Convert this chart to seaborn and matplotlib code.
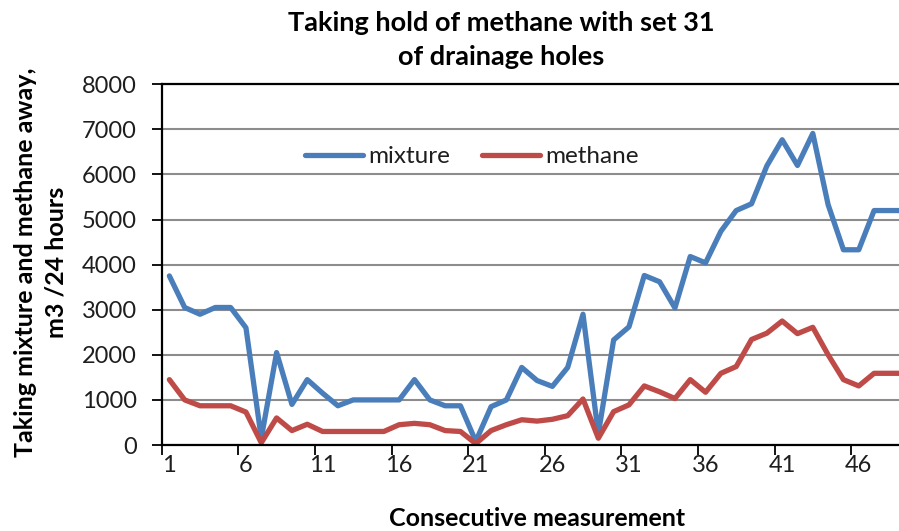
import numpy as np
import pandas as pd
import matplotlib
matplotlib.use("Agg")
import matplotlib.pyplot as plt
import seaborn as sns

# ---- data ----
measurement = list(range(1, 50))
mixture = [3750, 3050, 2900, 3050, 3050, 2600, 150, 2050, 900, 1450,
           1150, 870, 1000, 1000, 1000, 1000, 1450, 1000, 870, 870,
           80, 850, 1000, 1720, 1430, 1300, 1720, 2900, 250, 2330,
           2620, 3760, 3620, 3040, 4180, 4040, 4740, 5200, 5350, 6190,
           6770, 6200, 6910, 5330, 4330, 4330, 5200, 5200, 5200]
methane = [1450, 1000, 870, 870, 870, 730, 50, 600, 320, 460,
           300, 300, 300, 300, 300, 450, 480, 450, 320, 300,
           30, 320, 450, 560, 530, 570, 650, 1020, 150, 740,
           890, 1310, 1180, 1030, 1450, 1170, 1590, 1740, 2340, 2480,
           2750, 2470, 2610, 2000, 1450, 1310, 1590, 1590, 1590]
series_names = ["mixture", "methane"]
x_tick_labels = [1, 6, 11, 16, 21, 26, 31, 36, 41, 46]
y_ticks = [0, 1000, 2000, 3000, 4000, 5000, 6000, 7000, 8000]

title_text = "Taking hold of methane with set 31\nof drainage holes"
x_label = "Consecutive measurement"
y_label = "Taking mixture and methane away,\nm3 /24 hours"

sns.set_theme(style="white")
plt.rcParams['font.family'] = ['Lato', 'DejaVu Sans']

df = pd.DataFrame({
    "measurement": measurement * 2,
    "value": mixture + methane,
    "series": [series_names[0]] * len(mixture) + [series_names[1]] * len(methane),
})

W, H = 899, 531
fig = plt.figure(figsize=(W / 100, H / 100), dpi=100)
left_px, right_px, top_px, bottom_px = 161.7, 899, 84.3, 445
ax = fig.add_axes([left_px / W, 1 - bottom_px / H,
                   (right_px - left_px) / W, (bottom_px - top_px) / H])

palette = {"mixture": "#4A7EBB", "methane": "#BE4B48"}
sns.lineplot(data=df, x="measurement", y="value", hue="series",
             palette=palette, linewidth=3.8, ax=ax,
             solid_joinstyle="round", solid_capstyle="round")

ax.set_xlim(0.5, 0.5 + (right_px - left_px) / 15.32)
ax.set_ylim(0, 8000)

# y axis
ax.set_yticks(y_ticks)
ax.set_yticklabels([str(v) for v in y_ticks])
ax.yaxis.grid(True, color="#8C8C8C", linewidth=1.5)
ax.xaxis.grid(False)
ax.set_axisbelow(True)
ax.tick_params(axis="y", left=True, length=7, width=1.3, color="black",
               direction="out", pad=11, labelsize=17, labelcolor="#1E1E1E")

# x axis: boundary ticks, labels at categories
ax.set_xticks(np.arange(0.5, 48, 5))
ax.set_xticklabels([])
ax.set_xticks(x_tick_labels, minor=True)
ax.set_xticklabels([str(v) for v in x_tick_labels], minor=True)
ax.tick_params(axis="x", which="major", bottom=True, length=7, width=1.3,
               color="black", direction="out")
ax.tick_params(axis="x", which="minor", bottom=True, length=0, pad=7,
               labelsize=17, labelcolor="#1E1E1E")

for s in ["left", "bottom", "top"]:
    ax.spines[s].set_visible(True)
    ax.spines[s].set_color("black")
    ax.spines[s].set_linewidth(1.6)
ax.spines["right"].set_visible(False)

ax.set_xlabel(x_label, fontsize=18, fontweight="bold", color="black")
ax.xaxis.set_label_coords((537 - left_px) / (right_px - left_px),
                          (bottom_px - 519) / (bottom_px - top_px))
ax.xaxis.label.set_va("center")

ax.set_ylabel(y_label, fontsize=18, fontweight="bold", color="black",
              linespacing=1.38)
ax.yaxis.set_label_coords((41 - left_px) / (right_px - left_px),
                          (bottom_px - 262) / (bottom_px - top_px))
ax.yaxis.label.set_va("center")

fig.text(501 / W, 1 - 40 / H, title_text, ha="center", va="center",
         fontsize=19.5, fontweight="bold", color="black", linespacing=1.52)

leg = ax.legend(loc="center left",
                bbox_to_anchor=((305 - left_px) / (right_px - left_px),
                                (bottom_px - 156.7) / (bottom_px - top_px)),
                ncol=2, frameon=False, fontsize=17.5, borderpad=0,
                borderaxespad=0, handlelength=2.4, handletextpad=0.2,
                columnspacing=1.3)
for t in leg.get_texts():
    t.set_color("#1E1E1E")
for h in leg.legend_handles:
    h.set_linewidth(3.8)

fig.savefig("out.png", dpi=100)
